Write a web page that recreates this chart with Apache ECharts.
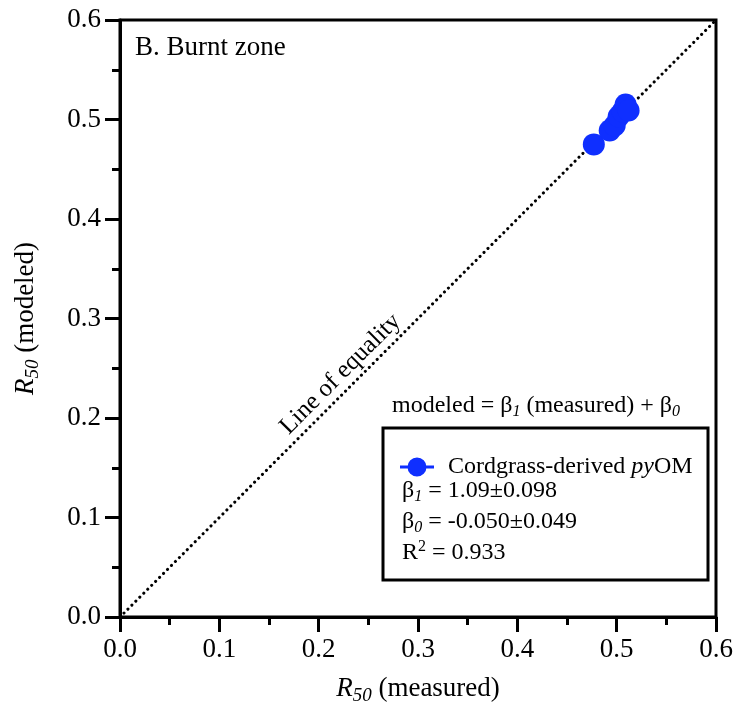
<!DOCTYPE html>
<html>
<head>
<meta charset="utf-8">
<script src="https://cdn.jsdelivr.net/npm/echarts@6/dist/echarts.min.js"></script>
<style>
  html, body { margin: 0; padding: 0; background: #fff; }
  #main { width: 738px; height: 713px; }
</style>
</head>
<body>
<div id="main"></div>
<script>
// 数据
var measured = [0.477, 0.493, 0.498, 0.502, 0.506, 0.509, 0.512];
var modeled = [0.475, 0.489, 0.494, 0.503, 0.508, 0.515, 0.509];
var equalityLine = [[0, 0], [0.6, 0.6]];
var axisTicks = [0, 0.1, 0.2, 0.3, 0.4, 0.5, 0.6];
var seriesName = 'Cordgrass-derived pyOM';
var fitStats = { b1: '1.09±0.098', b0: '-0.050±0.049', r2: '0.933' };

var FONT = 'Liberation Serif';
var BLUE = '#0f2fff';

var chart = echarts.init(document.getElementById('main'));

function axisCommon(name, gap, rotate) {
    return {
        type: 'value',
        min: axisTicks[0],
        max: axisTicks[axisTicks.length - 1],
        interval: 0.1,
        name: name,
        nameLocation: 'middle',
        nameGap: gap,
        nameRotate: rotate,
        nameTextStyle: {
            fontFamily: FONT, fontSize: 27, color: '#000',
            rich: {
                i: { fontFamily: FONT, fontSize: 27, fontStyle: 'italic', color: '#000' },
                sub: { fontFamily: FONT, fontSize: 19, fontStyle: 'italic', color: '#000', padding: [14, 0, 0, 0] },
                n: { fontFamily: FONT, fontSize: 27, color: '#000' }
            }
        },
        axisLine: { show: true, lineStyle: { color: '#000', width: 3 } },
        axisTick: { show: true, length: 15, lineStyle: { color: '#000', width: 3 } },
        minorTick: { show: true, splitNumber: 2, length: 8, lineStyle: { color: '#000', width: 3 } },
        axisLabel: {
            fontFamily: FONT, fontSize: 27, color: '#000', margin: 19,
            formatter: function (v) { return v.toFixed(1); }
        },
        splitLine: { show: false }
    };
}

var xAxis = axisCommon('{i|R}{sub|50}{n| (measured)}', 55, 0);
var yAxis = axisCommon('{i|R}{sub|50}{n| (modeled)}', 78, 90);

var option = {
    backgroundColor: '#fff',
    animation: false,
    textStyle: { fontFamily: FONT },
    grid: {
        left: 120, right: 22, top: 20, bottom: 96,
        show: true, borderColor: '#000', borderWidth: 3, backgroundColor: 'transparent'
    },
    xAxis: xAxis,
    yAxis: yAxis,
    legend: {
        data: [seriesName],
        left: 395, top: 450,
        itemWidth: 34, itemHeight: 19,
        icon: 'path://M0,8 L34,8 L34,11 L0,11 Z M26.5,9.5 A9.5,9.5 0 1,1 7.5,9.5 A9.5,9.5 0 1,1 26.5,9.5 Z',
        formatter: function () { return 'Cordgrass-derived {i|py}OM'; },
        textStyle: {
            fontFamily: FONT, fontSize: 24, color: '#000', padding: [0, 0, 0, 9],
            rich: { i: { fontFamily: FONT, fontSize: 24, fontStyle: 'italic', color: '#000' } }
        }
    },
    series: [
        {
            name: 'Line of equality',
            type: 'line',
            data: equalityLine,
            symbol: 'none',
            silent: true,
            lineStyle: { color: '#000', width: 3, type: [0.1, 5.5], cap: 'round' },
            z: 1
        },
        {
            name: seriesName,
            type: 'scatter',
            data: measured.map(function (m, i) { return [m, modeled[i]]; }),
            symbol: 'circle',
            symbolSize: 22,
            itemStyle: { color: BLUE, opacity: 1 },
            z: 3
        }
    ]
};

chart.setOption(option);

// 注释文字
var richTxt = {
    n: { fontFamily: FONT, fontSize: 24, fill: '#000' },
    si: { fontFamily: FONT, fontSize: 16, fontStyle: 'italic', fill: '#000', padding: [12, 0, 0, 0] },
    su: { fontFamily: FONT, fontSize: 16, fill: '#000', padding: [0, 0, 12, 0] }
};
var p = chart.convertToPixel({ gridIndex: 0 }, [0.233, 0.233]);

chart.setOption({
    graphic: [
        {
            type: 'text', left: 135, top: 34,
            style: { text: 'B. Burnt zone', fontFamily: FONT, fontSize: 27, fill: '#000' }
        },
        {
            type: 'text', x: p[0] - 11, y: p[1] - 11, rotation: Math.PI / 4,
            style: { text: 'Line of equality', fontFamily: FONT, fontSize: 25, fill: '#000', align: 'center', verticalAlign: 'middle' }
        },
        {
            type: 'text', x: 392, y: 406,
            style: {
                text: '{n|modeled = β}{si|1}{n| (measured) + β}{si|0}',
                verticalAlign: 'middle', rich: richTxt
            }
        },
        {
            type: 'rect', shape: { x: 383, y: 428, width: 325, height: 152 },
            style: { fill: 'none', stroke: '#000', lineWidth: 3 }
        },
        {
            type: 'text', x: 402, y: 491,
            style: { text: '{n|β}{si|1}{n| = ' + fitStats.b1 + '}', verticalAlign: 'middle', rich: richTxt }
        },
        {
            type: 'text', x: 402, y: 522,
            style: { text: '{n|β}{si|0}{n| = ' + fitStats.b0 + '}', verticalAlign: 'middle', rich: richTxt }
        },
        {
            type: 'text', x: 402, y: 553,
            style: { text: '{n|R}{su|2}{n| = ' + fitStats.r2 + '}', verticalAlign: 'middle', rich: richTxt }
        }
    ]
});
</script>
</body>
</html>
